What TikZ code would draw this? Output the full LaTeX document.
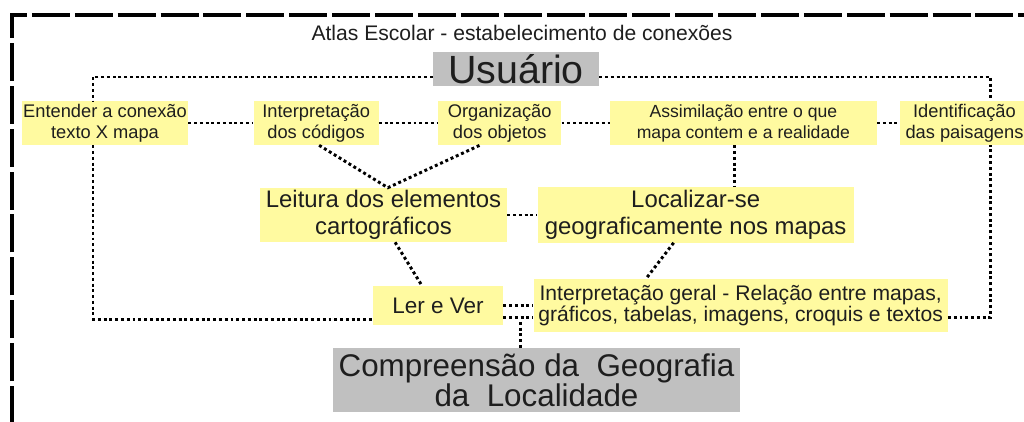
\documentclass[tikz,border=0pt]{standalone}
\usepackage{fontspec}
\setmainfont{Liberation Sans}
\usetikzlibrary{positioning}

\definecolor{boxyellow}{RGB}{255,250,160}
\definecolor{boxgray}{RGB}{192,192,192}
\definecolor{inktext}{RGB}{30,30,30}

\tikzset{
  ybox/.style={fill=boxyellow,align=center,inner sep=0pt,text=inktext},
  gbox/.style={fill=boxgray,align=center,inner sep=0pt,text=inktext},
  small/.style={font=\fontsize{13}{15}\selectfont,minimum height=1.1cm},
  medium/.style={font=\fontsize{17}{19}\selectfont},
  conn/.style={line width=2.1pt,dash pattern=on 2.1pt off 2pt},
  frameline/.style={line width=2.2pt,dash pattern=on 27pt off 3.5pt}
}

\begin{document}
\begin{tikzpicture}[x=0.025cm,y=-0.025cm,node distance=1cm]
\useasboundingbox (0,0) rectangle (1024,421);

% outer frame
\draw[frameline] (12,424) -- (12,15) -- (1040,15);

\node[text=inktext,font=\fontsize{15}{17}\selectfont] (title) at (522,33) {Atlas Escolar - estabelecimento de conexões};

\node[gbox,font=\fontsize{28}{30}\selectfont,minimum width=4.15cm,minimum height=0.85cm] (usuario) at (516,69) {Usuário};

% first row
\node[ybox,small,minimum width=4.15cm] (entender) at (105,123) {Entender a conexão\\texto X mapa};
\node[ybox,small,minimum width=3.125cm] (interp) [right=1.625cm of entender] {Interpretação\\dos códigos};
\node[ybox,small,minimum width=3.075cm] (organiz) [right=1.475cm of interp] {Organização\\dos objetos};
\node[ybox,small,minimum width=6.675cm,font=\fontsize{12.5}{15}\selectfont] (assimil) [right=1.2cm of organiz] {Assimilação entre o que\\mapa contem e a realidade};
\node[ybox,small,minimum width=3.2cm] (identif) [right=0.575cm of assimil] {Identificação\\das paisagens};

% second row
\node[ybox,medium,minimum width=6.175cm,minimum height=1.35cm] (leitura) at (383.5,215) {Leitura dos elementos\\cartográficos};
\node[ybox,medium,minimum width=7.9cm,minimum height=1.375cm] (localiz) [right=0.75cm of leitura] {Localizar-se\\geograficamente nos mapas};

% third row
\node[ybox,font=\fontsize{16}{18}\selectfont,minimum width=3.25cm,minimum height=0.975cm] (lerver) at (438,305.5) {Ler e Ver};
\node[ybox,font=\fontsize{15}{15}\selectfont,minimum width=10.35cm,minimum height=1.3cm] (interpgeral) [right=0.75cm of lerver] {Interpretação geral - Relação entre mapas,\\gráficos, tabelas, imagens, croquis e textos};

\node[gbox,font=\fontsize{22.3}{21.5}\selectfont,minimum width=10.175cm,minimum height=1.6cm] (compreensao) at (536.5,380) {Compreensão da\ \ Geografia\\da\ \ Localidade};

\coordinate (lvlow) at ([yshift=-0.31cm]lerver.east);
\coordinate (cdrop) at ([xshift=-0.41cm]compreensao.north);

% connections
\draw[conn] ([yshift=-0.2cm]usuario.west) -| ([xshift=-0.3cm]entender.north);
\draw[conn] ([yshift=-0.2cm]usuario.east) -| ([xshift=0.65cm]identif.north);
\draw[conn] (entender.east) -- (interp.west);
\draw[conn] (interp.east) -- (organiz.west);
\draw[conn] (organiz.east) -- (assimil.west);
\draw[conn] (assimil.east) -- (identif.west);
\draw[conn] ([xshift=0.075cm]interp.south) -- ([xshift=0.11cm]leitura.north) -- ([xshift=-0.5cm]organiz.south);
\draw[conn] ([xshift=-0.21cm]assimil.south) -- ([xshift=-0.21cm]assimil.south |- localiz.north);
\draw[conn] (leitura.east) -- (localiz.west);
\draw[conn] ([xshift=0.29cm]leitura.south) -- ([xshift=-0.4cm]lerver.north);
\draw[conn] ([xshift=-0.55cm]localiz.south) -- ([xshift=-2.375cm]interpgeral.north);
\draw[conn] ([xshift=-0.3cm]entender.south) |- ([yshift=-0.34cm]lerver.west);
\draw[conn] (lerver.east) -- (lerver.east -| interpgeral.west);
\draw[conn] (lvlow) -- (lvlow -| interpgeral.west);
\draw[conn] ([yshift=-0.1cm]cdrop |- lvlow) -- (cdrop);
\draw[conn] ([yshift=-0.3cm]interpgeral.east) -| ([xshift=0.65cm]identif.south);
\end{tikzpicture}
\end{document}
